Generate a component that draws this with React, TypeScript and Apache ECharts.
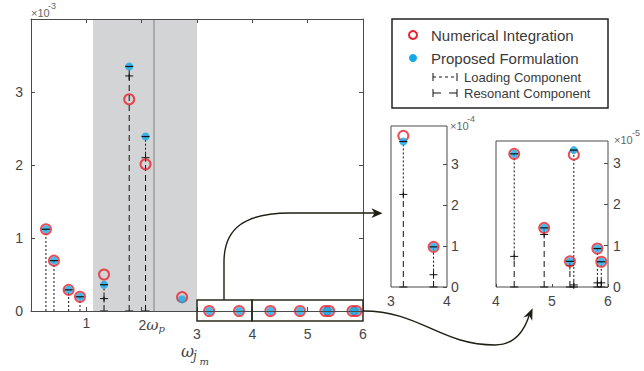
import React, { useEffect, useRef } from "react";
import * as echarts from "echarts";

// ---------- data ----------
// main panel, values in units of 10^-3
const mainFreq = [0.27, 0.415, 0.68, 0.885, 1.32, 1.775, 2.07, 2.73, 3.22, 3.76, 4.325, 4.86, 5.32, 5.39, 5.81, 5.88];
const mainNumerical = [1.12, 0.69, 0.29, 0.195, 0.5, 2.9, 2.01, 0.19, 0, 0, 0, 0, 0, 0, 0, 0];
const mainProposed = [1.12, 0.69, 0.29, 0.195, 0.36, 3.35, 2.39, 0.16, 0, 0, 0, 0, 0, 0, 0, 0];
const mainResonant: (number | null)[] = [0, 0, 0, 0, 0.17, 3.22, 2.1, null, null, null, null, null, null, null, null, null];

// inset 1 (3 < w < 4), values in units of 10^-4
const inset1Freq = [3.22, 3.76];
const inset1Numerical = [3.69, 0.98];
const inset1Proposed = [3.55, 0.98];
const inset1Resonant = [2.26, 0.3];

// inset 2 (4 < w < 6), values in units of 10^-5
const inset2Freq = [4.325, 4.86, 5.32, 5.39, 5.81, 5.88];
const inset2Numerical = [3.22, 1.43, 0.62, 3.2, 0.93, 0.61];
const inset2Proposed = [3.22, 1.43, 0.62, 3.31, 0.93, 0.61];
const inset2Resonant = [0.74, 1.27, 0.52, 0.05, 0.1, 0.1];

// shaded band and marker line (frequency)
const bandRange = [1.12, 3.0];
const bandLine = 2.22;

// tick labels
const mainXTickText: Record<number, string> = { 1: "1", 2: "2ωp", 3: "3", 4: "4", 5: "5", 6: "6" };
const mainYTickText: Record<number, string> = { 0: "0", 1: "1", 2: "2", 3: "3" };
const insetYTickText: Record<number, string> = { 0: "0", 1: "1", 2: "2", 3: "3" };

const legendNames = ["Numerical Integration", "Proposed Formulation", "Loading Component", "Resonant Component"];

// ---------- style ----------
const RED = "#e8222c";
const BLUE = "#17a8e6";
const INK = "#111111";
const AXIS = "#4a4a4a";
const LABEL = "#454545";
const FONT = "'Liberation Sans', Arial, sans-serif";
const MATH = "'DejaVu Serif', serif";

echarts.graphic.registerShape(
  "arrowA",
  echarts.graphic.extendPath("M224 300 L224 262 C224 228 245 213 290 213 L375 213", {})
);
echarts.graphic.registerShape(
  "arrowB",
  echarts.graphic.extendPath("M363 311 C420 311 440 345 495 345 C515 345 524 331 529 316", {})
);

function stemItem(_params: any, api: any) {
  const x = api.value(0);
  const split = api.value(1);
  const total = api.value(2);
  const p0 = api.coord([x, 0]);
  const ps = api.coord([x, split]);
  const pt = api.coord([x, total]);
  const st = { stroke: INK, lineWidth: 1, fill: null };
  const c: any[] = [];
  if (p0[1] - ps[1] > 1) {
    c.push({ type: "line", shape: { x1: p0[0], y1: p0[1], x2: ps[0], y2: ps[1] }, style: { ...st, lineDash: [6, 4] } });
    c.push({ type: "line", shape: { x1: ps[0] - 4, y1: ps[1], x2: ps[0] + 4, y2: ps[1] }, style: { ...st } });
    c.push({ type: "line", shape: { x1: ps[0], y1: ps[1] - 4, x2: ps[0], y2: ps[1] + 4 }, style: { ...st } });
    c.push({ type: "line", shape: { x1: p0[0] - 4, y1: p0[1], x2: p0[0] + 4, y2: p0[1] }, style: { ...st } });
  }
  c.push({ type: "line", shape: { x1: ps[0], y1: ps[1], x2: pt[0], y2: pt[1] }, style: { ...st, lineDash: [2, 2] } });
  return { type: "group", children: c };
}

function capItem(_params: any, api: any) {
  const x = api.value(0);
  const total = api.value(2);
  const pt = api.coord([x, total]);
  return {
    type: "line",
    shape: { x1: pt[0] - 4, y1: pt[1], x2: pt[0] + 4, y2: pt[1] },
    style: { stroke: INK, lineWidth: 1.2 },
  };
}

function panelSeries(
  name: string,
  xi: number,
  yi: number,
  freq: number[],
  num: number[],
  prop: number[],
  res: (number | null)[]
) {
  const stems: number[][] = [];
  freq.forEach((f, i) => {
    const r = res[i];
    if (r !== null && r !== undefined) stems.push([f, r, prop[i]]);
  });
  return [
    {
      id: name + "-stems",
      type: "custom",
      xAxisIndex: xi,
      yAxisIndex: yi,
      z: 2,
      silent: true,
      clip: false,
      encode: { x: 0, y: [1, 2] },
      renderItem: stemItem,
      data: stems,
    },
    {
      id: name + "-num",
      name: legendNames[0],
      type: "scatter",
      xAxisIndex: xi,
      yAxisIndex: yi,
      z: 3,
      clip: false,
      symbol: "circle",
      symbolSize: 10,
      itemStyle: { color: "rgba(0,0,0,0)", borderColor: RED, borderWidth: 2 },
      data: freq.map((f, i) => [f, num[i]]),
    },
    {
      id: name + "-prop",
      name: legendNames[1],
      type: "scatter",
      xAxisIndex: xi,
      yAxisIndex: yi,
      z: 4,
      clip: false,
      symbol: "circle",
      symbolSize: 8,
      itemStyle: { color: BLUE },
      data: freq.map((f, i) => [f, prop[i]]),
    },
    {
      id: name + "-caps",
      type: "custom",
      xAxisIndex: xi,
      yAxisIndex: yi,
      z: 5,
      silent: true,
      clip: false,
      encode: { x: 0, y: [1, 2] },
      renderItem: capItem,
      data: stems,
    },
  ];
}

const tickLabel = { fontFamily: FONT, fontSize: 14, color: LABEL };

function buildOption(): any {
  const xAxisCommon = {
    type: "value",
    splitLine: { show: false },
    axisTick: { show: true, inside: true, length: 4, lineStyle: { color: AXIS } },
    axisLine: { show: true, onZero: false, lineStyle: { color: AXIS, width: 1 } },
    z: 10,
  };
  return {
    animation: false,
    backgroundColor: "#ffffff",
    grid: [
      { left: 31, top: 19, width: 332, height: 292 },
      { left: 391, top: 126, width: 56, height: 161, show: true, borderColor: AXIS, borderWidth: 1, backgroundColor: "rgba(0,0,0,0)" },
      { left: 496, top: 141, width: 112, height: 146, show: true, borderColor: AXIS, borderWidth: 1, backgroundColor: "rgba(0,0,0,0)" },
    ],
    xAxis: [
      {
        ...xAxisCommon,
        gridIndex: 0,
        position: "bottom",
        min: 0,
        max: 6,
        interval: 1,
        axisLabel: {
          ...tickLabel,
          margin: 5,
          formatter: (v: number) => {
            const t = mainXTickText[Math.round(v)];
            if (!t) return "";
            if (t === "2ωp") return "{two|2}{w|ω}{p|p}";
            if (v >= 3) return "{low|" + t + "}";
            return "{n|" + t + "}";
          },
          rich: {
            n: { fontFamily: FONT, fontSize: 14, color: LABEL },
            low: { fontFamily: FONT, fontSize: 14, color: LABEL, padding: [11, 0, 0, 0] },
            two: { fontFamily: FONT, fontSize: 14, color: LABEL, padding: [0, 0, 0, 20] },
            w: { fontFamily: MATH, fontStyle: "italic", fontSize: 15, color: LABEL },
            p: { fontFamily: MATH, fontStyle: "italic", fontSize: 10, color: LABEL, padding: [7, 0, 0, 0] },
          },
        },
      },
      {
        ...xAxisCommon,
        gridIndex: 0,
        position: "top",
        min: 0,
        max: 6,
        interval: 1,
        axisLabel: { show: false },
      },
      {
        ...xAxisCommon,
        gridIndex: 1,
        position: "bottom",
        min: 3,
        max: 4,
        interval: 1,
        axisLine: { show: false },
        axisTick: { show: false },
        axisLabel: { ...tickLabel, margin: 7 },
      },
      {
        ...xAxisCommon,
        gridIndex: 2,
        position: "bottom",
        min: 4,
        max: 6,
        interval: 1,
        axisLine: { show: false },
        axisTick: { show: true, inside: true, length: 3, lineStyle: { color: AXIS } },
        axisLabel: { ...tickLabel, margin: 7 },
      },
    ],
    yAxis: [
      {
        ...xAxisCommon,
        gridIndex: 0,
        position: "left",
        min: 0,
        max: 4,
        interval: 1,
        axisLabel: {
          ...tickLabel,
          margin: 8,
          formatter: (v: number) => mainYTickText[Math.round(v)] ?? "",
        },
      },
      {
        ...xAxisCommon,
        gridIndex: 0,
        position: "right",
        min: 0,
        max: 4,
        interval: 1,
        axisLabel: { show: false },
      },
      {
        ...xAxisCommon,
        gridIndex: 1,
        position: "right",
        min: 0,
        max: 3.93,
        interval: 1,
        axisLine: { show: false },
        axisTick: { show: true, inside: true, length: 4, lineStyle: { color: AXIS } },
        axisLabel: {
          ...tickLabel,
          margin: 4,
          showMaxLabel: false,
          formatter: (v: number) => (Math.abs(v - Math.round(v)) < 1e-6 ? insetYTickText[Math.round(v)] ?? "" : ""),
        },
      },
      {
        ...xAxisCommon,
        gridIndex: 2,
        position: "right",
        min: 0,
        max: 3.53,
        interval: 1,
        axisLine: { show: false },
        axisTick: { show: true, inside: true, length: 4, lineStyle: { color: AXIS } },
        axisLabel: {
          ...tickLabel,
          margin: 5,
          showMaxLabel: false,
          formatter: (v: number) => (Math.abs(v - Math.round(v)) < 1e-6 ? insetYTickText[Math.round(v)] ?? "" : ""),
        },
      },
    ],
    series: [
      {
        id: "band",
        type: "line",
        xAxisIndex: 0,
        yAxisIndex: 0,
        data: [],
        z: 1,
        silent: true,
        markArea: {
          silent: true,
          itemStyle: { color: "#d3d4d6" },
          data: [[{ xAxis: bandRange[0] }, { xAxis: bandRange[1] }]],
        },
        markLine: {
          silent: true,
          symbol: "none",
          label: { show: false },
          lineStyle: { color: "#9c9c9c", width: 1.5, type: "solid" },
          data: [{ xAxis: bandLine }],
        },
      },
      ...panelSeries("main", 0, 0, mainFreq, mainNumerical, mainProposed, mainResonant),
      ...panelSeries("in1", 2, 2, inset1Freq, inset1Numerical, inset1Proposed, inset1Resonant),
      ...panelSeries("in2", 3, 3, inset2Freq, inset2Numerical, inset2Proposed, inset2Resonant),
    ],
    graphic: [
      // zoom boxes
      { type: "rect", z: 20, shape: { x: 197, y: 300, width: 55, height: 21 }, style: { fill: null, stroke: "#2a2a1c", lineWidth: 1.5 } },
      { type: "rect", z: 20, shape: { x: 252, y: 300, width: 111, height: 21 }, style: { fill: null, stroke: "#2a2a1c", lineWidth: 1.5 } },
      // arrows
      { type: "arrowA", z: 20, x: 0, y: 0, scaleX: 1, scaleY: 1, style: { fill: null, stroke: "#1e1e12", lineWidth: 1.4 } },
      { type: "arrowB", z: 20, x: 0, y: 0, scaleX: 1, scaleY: 1, style: { fill: null, stroke: "#1e1e12", lineWidth: 1.4 } },
      { type: "polygon", z: 20, shape: { points: [[382.5, 213.2], [371.5, 208.3], [374.5, 213.2], [371.5, 218.1]] }, style: { fill: "#1e1e12" } },
      { type: "polygon", z: 20, shape: { points: [[532.6, 308.2], [532.2, 320.8], [529.3, 315.8], [523.4, 317.5]] }, style: { fill: "#1e1e12" } },
      // exponent labels
      { type: "text", z: 20, style: { x: 31, y: 13, text: "×10", fontFamily: FONT, fontSize: 11, fill: "#666", verticalAlign: "middle" } },
      { type: "text", z: 20, style: { x: 48, y: 6, text: "-3", fontFamily: FONT, fontSize: 9, fill: "#666", verticalAlign: "middle" } },
      { type: "text", z: 20, style: { x: 450, y: 126, text: "×10", fontFamily: FONT, fontSize: 11, fill: "#666", verticalAlign: "middle" } },
      { type: "text", z: 20, style: { x: 467, y: 119, text: "-4", fontFamily: FONT, fontSize: 9, fill: "#666", verticalAlign: "middle" } },
      { type: "text", z: 20, style: { x: 614, y: 140, text: "×10", fontFamily: FONT, fontSize: 11, fill: "#666", verticalAlign: "middle" } },
      { type: "text", z: 20, style: { x: 632, y: 133, text: "-5", fontFamily: FONT, fontSize: 9, fill: "#666", verticalAlign: "middle" } },
      // x axis name  ω_{j_m}
      { type: "text", z: 20, style: { x: 181, y: 351, text: "ω", fontFamily: MATH, fontStyle: "italic", fontSize: 16, fill: LABEL, verticalAlign: "middle" } },
      { type: "text", z: 20, style: { x: 193, y: 356, text: "j", fontFamily: MATH, fontStyle: "italic", fontSize: 12, fill: LABEL, verticalAlign: "middle" } },
      { type: "text", z: 20, style: { x: 199.5, y: 361, text: "m", fontFamily: MATH, fontStyle: "italic", fontSize: 10, fill: LABEL, verticalAlign: "middle" } },
      // legend
      { type: "rect", z: 20, shape: { x: 392, y: 19, width: 216, height: 89 }, style: { fill: "#fff", stroke: "#222", lineWidth: 1.5 } },
      { type: "circle", z: 21, shape: { cx: 413, cy: 35, r: 4 }, style: { fill: null, stroke: RED, lineWidth: 2 } },
      { type: "circle", z: 21, shape: { cx: 413, cy: 58, r: 4 }, style: { fill: BLUE } },
      { type: "text", z: 21, style: { x: 431, y: 35, text: legendNames[0], fontFamily: FONT, fontSize: 15, fill: "#3a3a3a", verticalAlign: "middle" } },
      { type: "text", z: 21, style: { x: 431, y: 58, text: legendNames[1], fontFamily: FONT, fontSize: 15, fill: "#3a3a3a", verticalAlign: "middle" } },
      { type: "line", z: 21, shape: { x1: 433, y1: 77, x2: 457, y2: 77 }, style: { stroke: INK, lineWidth: 1, lineDash: [3, 3] } },
      { type: "line", z: 21, shape: { x1: 433, y1: 73, x2: 433, y2: 81 }, style: { stroke: INK, lineWidth: 1 } },
      { type: "line", z: 21, shape: { x1: 457, y1: 73, x2: 457, y2: 81 }, style: { stroke: INK, lineWidth: 1 } },
      { type: "text", z: 21, style: { x: 464, y: 77, text: legendNames[2], fontFamily: FONT, fontSize: 13, fill: "#3a3a3a", verticalAlign: "middle" } },
      { type: "line", z: 21, shape: { x1: 433, y1: 93, x2: 441, y2: 93 }, style: { stroke: INK, lineWidth: 1 } },
      { type: "line", z: 21, shape: { x1: 449, y1: 93, x2: 457, y2: 93 }, style: { stroke: INK, lineWidth: 1 } },
      { type: "line", z: 21, shape: { x1: 433, y1: 89, x2: 433, y2: 97 }, style: { stroke: INK, lineWidth: 1 } },
      { type: "line", z: 21, shape: { x1: 457, y1: 89, x2: 457, y2: 97 }, style: { stroke: INK, lineWidth: 1 } },
      { type: "text", z: 21, style: { x: 464, y: 93, text: legendNames[3], fontFamily: FONT, fontSize: 13, fill: "#3a3a3a", verticalAlign: "middle" } },
    ],
  };
}

export default function App() {
  const ref = useRef<HTMLDivElement>(null);
  useEffect(() => {
    if (!ref.current) return;
    const chart = echarts.init(ref.current, undefined, { renderer: "svg" });
    chart.setOption(buildOption());
    return () => chart.dispose();
  }, []);
  return (
    <div
      ref={ref}
      style={{ position: "absolute", left: 0, top: 0, width: 644, height: 371, background: "#fff" }}
    />
  );
}
